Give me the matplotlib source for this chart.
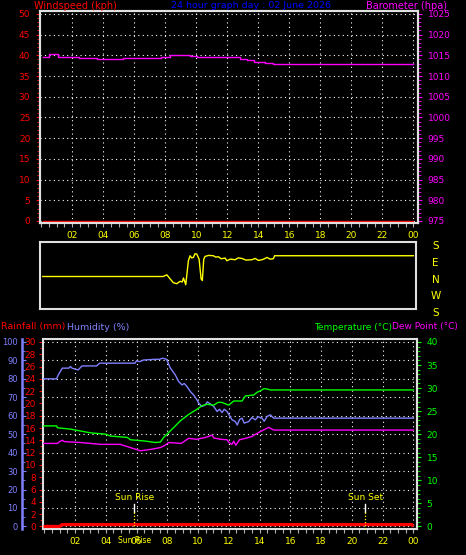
import numpy as np
import matplotlib; matplotlib.use("Agg")
import matplotlib.pyplot as plt
from matplotlib.ticker import MultipleLocator

# --- data ---
hour_ticks = list(range(2, 25, 2))
hour_labels = [f"{h % 24:02d}" for h in hour_ticks]

wind_hours = [0.1, 24.0]
wind_vals = [0.0, 0.0]

baro_hours = [0.1, 0.5, 1.05, 1.2, 2.45, 3.6, 3.9, 5.3, 7.7, 8.3, 9.6, 10.05,
              12.4, 12.8, 13.3, 13.7, 14.1, 14.4, 14.95, 24.0]
baro_vals = [1014.6, 1015.3, 1014.5, 1014.7, 1014.4, 1014.2, 1014.1, 1014.4, 1014.7, 1015.1,
             1014.8, 1014.6, 1014.5, 1014.1, 1013.9, 1013.5, 1013.3, 1013.2, 1012.9, 1012.9]

# wind direction, 0..4 = S W N E S (bottom to top)
wdir_hours = [0.1, 7.86, 8.1, 8.31, 8.52, 8.74, 8.95, 9.1, 9.17, 9.25, 9.32, 9.49, 9.6, 9.7,
              9.81, 9.92, 10.03, 10.18, 10.31, 10.39, 10.48, 10.57, 10.8, 11.1, 11.25, 11.43,
              11.6, 11.86, 11.97, 12.2, 12.5, 12.7, 12.94, 13.2, 13.58, 13.8, 14.0, 14.23,
              14.4, 14.55, 14.76, 14.97, 15.05, 24.0]
wdir_vals = [1.94, 1.94, 2.04, 1.8, 1.57, 1.51, 1.65, 1.62, 1.85, 1.65, 1.45, 2.88, 3.18, 3.05,
             3.08, 3.3, 3.28, 2.98, 1.8, 1.7, 2.98, 3.14, 3.2, 3.18, 3.1, 3.12,
             3.0, 3.04, 2.88, 2.98, 2.94, 3.05, 3.02, 2.92, 2.94, 3.02, 2.9, 2.94,
             3.0, 3.08, 2.98, 3.0, 3.18, 3.18]
wdir_labels = ["S", "W", "N", "E", "S"]

rain_hours = [-0.05, 1.0, 1.15, 23.9, 24.0]
rain_vals = [0.0, 0.0, 0.3, 0.3, 0.0]

hum_hours = [-0.05, 0.8, 0.9, 1.17, 1.6, 1.7, 1.8, 2.2, 2.45, 3.4, 3.6, 5.9, 6.0, 6.2, 6.45,
             7.2, 7.5, 7.7, 7.95, 8.2, 8.52, 8.74, 8.96, 9.1, 9.28, 9.5, 9.71, 9.93, 10.04,
             10.26, 10.47, 10.6, 10.8, 11.02, 11.24, 11.4, 11.56, 11.7, 11.89, 12.05, 12.21,
             12.43, 12.55, 12.7, 12.86, 13.0, 13.29, 13.5, 13.73, 13.9, 14.16, 14.3, 14.49,
             14.7, 14.92, 24.0]
hum_vals = [80, 80, 82, 85.8, 85.8, 86.7, 85.8, 84.8, 87, 87, 88.5, 88.5, 89.8, 89.3, 90.2,
            90.6, 90.6, 91.2, 90.6, 85.8, 82.1, 78.5, 76.7, 77.5, 75.8, 73.1, 71.3, 68.6, 66.8,
            65, 65.9, 67.5, 66.4, 65, 62.3, 63.5, 61.7, 63.5, 62.3, 60, 57.8,
            56.8, 55, 58, 58.7, 56, 56.8, 59, 57.8, 59.5, 58.7, 57, 59.6,
            60.5, 58.7, 58.7]

temp_hours = [-0.05, 0.8, 0.85, 1.7, 2.35, 3.0, 4.0, 4.3, 5.4, 5.6, 6.6, 7.2, 7.55, 7.76,
              8.31, 8.85, 9.39, 9.93, 10.26, 10.59, 11.02, 11.3, 11.56, 11.99, 12.32, 12.86,
              13.08, 13.62, 13.84, 14.05, 14.3, 14.49, 14.7, 24.0]
temp_vals = [21.8, 21.8, 21.4, 21.1, 20.7, 20.3, 20.0, 19.6, 19.3, 18.8, 18.5, 18.2, 18.3, 19.3,
             21.1, 22.9, 24.3, 25.4, 26.2, 26.5, 26.3, 26.9, 26.9, 26.3, 27.2, 27.2,
             28.3, 28.5, 29.1, 29.4, 29.9, 29.8, 29.6, 29.6]

dew_hours = [-0.05, 0.85, 1.0, 1.17, 1.3, 2.34, 3.64, 4.94, 5.6, 6.25, 6.9, 7.55, 7.8, 8.1,
             8.9, 9.39, 9.9, 10.5, 10.9, 11.02, 11.45, 11.89, 12.0, 12.2, 12.32, 12.45, 12.7,
             13.08, 13.5, 13.95, 14.37, 14.59, 14.92, 24.0]
dew_vals = [18.0, 18.0, 18.4, 18.7, 18.4, 18.2, 17.8, 17.8, 17.1, 16.4, 16.7, 17.1, 17.5, 18.2,
            18.0, 19.1, 18.9, 19.3, 19.8, 19.2, 18.9, 18.8, 18.2, 17.8, 18.5, 17.6, 18.8,
            19.1, 19.5, 20.4, 21.1, 21.5, 20.9, 20.9]

sunrise_h = 5.86
sunset_h = 20.87

# --- style ---
BG = "black"
SPINE = "#e0e0e0"
RED, MAG, BLUE, YEL = "#ff0000", "#ff00ff", "#0000ff", "#ffff00"
GREEN, HUM = "#00ff00", "#8080ff"
GRID = dict(color="white", lw=0.8, ls=(0, (1, 3)))
FS = 6.5

W, H = 466, 555
fig = plt.figure(figsize=(W / 100, H / 100), dpi=100, facecolor=BG)


def box(l, t, r, b):
    return [l / W, 1 - b / H, (r - l) / W, (b - t) / H]


def style_frame(ax):
    ax.set_facecolor(BG)
    for s in ax.spines.values():
        s.set_color(SPINE)
        s.set_linewidth(1.5)


def hour_axis(ax):
    ax.set_xticks(hour_ticks)
    ax.set_xticklabels(hour_labels)
    ax.xaxis.set_minor_locator(MultipleLocator(0.5))
    ax.tick_params(axis="x", which="both", colors="#b0b0b0", labelcolor=YEL,
                   labelsize=FS, length=3, width=0.8, pad=3)


# ---------------- top: windspeed / barometer ----------------
ax1 = fig.add_axes(box(40, 11, 418, 223))
style_frame(ax1)
ax1.set_xlim(-0.08, 24.3)
ax1.set_ylim(-0.5, 50.7)
ax1.plot(wind_hours, wind_vals, color=RED, lw=1)
ax1.yaxis.set_major_locator(MultipleLocator(5))
ax1.yaxis.set_minor_locator(MultipleLocator(1))
ax1.tick_params(axis="y", which="major", colors=RED, labelsize=FS, length=3, pad=4)
ax1.tick_params(axis="y", which="minor", colors=RED, length=2)
hour_axis(ax1)
ax1.grid(True, which="major", **GRID)

ax1b = ax1.twinx()
ax1b.set_ylim(974.5, 1025.7)
ax1b.plot(baro_hours, baro_vals, color=MAG, lw=1, drawstyle="steps-post")
ax1b.yaxis.set_major_locator(MultipleLocator(5))
ax1b.yaxis.set_minor_locator(MultipleLocator(1))
ax1b.tick_params(axis="y", which="major", colors=MAG, labelsize=FS, length=3, pad=4)
ax1b.tick_params(axis="y", which="minor", colors=MAG, length=2)
for s in ax1b.spines.values():
    s.set_color(SPINE)
    s.set_linewidth(1.5)

fig.text(34 / W, 1 - 6 / H, "Windspeed (kph)", color=RED, fontsize=7, va="center")
fig.text(251 / W, 1 - 6 / H, "24 hour graph day : 02 June 2026", color=BLUE,
         fontsize=6.8, va="center", ha="center")
fig.text(447 / W, 1 - 6 / H, "Barometer (hpa)", color=MAG, fontsize=7, va="center", ha="right")

# ---------------- middle: wind direction ----------------
ax2 = fig.add_axes(box(40, 242, 416, 309))
style_frame(ax2)
ax2.set_xlim(-0.08, 24.17)
ax2.set_ylim(0, 4)
ax2.plot(wdir_hours, wdir_vals, color=YEL, lw=1)
ax2.set_xticks([])
ax2.set_yticks([])
for i, lab in enumerate(wdir_labels):
    ax2.annotate(lab, xy=(1, i / 4), xycoords="axes fraction", xytext=(14, -3),
                 textcoords="offset points", color=YEL, fontsize=7.5, ha="center", va="center")

fig.text(1 / W, 1 - 327 / H, "Rainfall (mm)", color=RED, fontsize=6.8, va="center")
fig.text(67 / W, 1 - 327 / H, "Humidity (%)", color=HUM, fontsize=6.8, va="center")
fig.text(392 / W, 1 - 327 / H, "Temperature (°C)", color=GREEN, fontsize=6.5, va="center", ha="right")
fig.text(392 / W, 1 - 327 / H, "Dew Point (°C)", color=MAG, fontsize=6.5, va="center")

# ---------------- bottom: rain / humidity / temperature ----------------
ax3 = fig.add_axes(box(43, 339, 417, 529))
style_frame(ax3)
ax3.set_xlim(-0.085, 24.24)
ax3.set_ylim(-0.42, 30.48)
ax3.yaxis.set_major_locator(MultipleLocator(2))
ax3.yaxis.set_minor_locator(MultipleLocator(1))
ax3.tick_params(axis="y", which="major", colors=RED, labelsize=FS, length=3, pad=2)
ax3.tick_params(axis="y", which="minor", colors=RED, length=2)
hour_axis(ax3)
ax3.grid(True, axis="x", which="major", **GRID)

ax_h = ax3.twinx()
ax_h.set_ylim(-1.4, 101.6)
ax_h.yaxis.set_label_position("left")
ax_h.yaxis.tick_left()
ax_h.spines["left"].set_position(("outward", 15))
ax_h.spines["left"].set_color(HUM)
ax_h.spines["left"].set_linewidth(1.8)
for k in ("right", "top", "bottom"):
    ax_h.spines[k].set_visible(False)
ax_h.yaxis.set_major_locator(MultipleLocator(10))
ax_h.yaxis.set_minor_locator(MultipleLocator(5))
ax_h.tick_params(axis="y", which="major", direction="in", colors=HUM, labelsize=6, length=3, pad=3)
ax_h.tick_params(axis="y", which="minor", direction="in", colors=HUM, length=2)
ax_h.grid(True, axis="y", which="major", **GRID)

ax_t = ax3.twinx()
ax_t.set_ylim(-0.56, 40.65)
ax_t.spines["right"].set_color(SPINE)
ax_t.spines["right"].set_linewidth(1.5)
for k in ("left", "top", "bottom"):
    ax_t.spines[k].set_visible(False)
ax_t.yaxis.set_major_locator(MultipleLocator(5))
ax_t.yaxis.set_minor_locator(MultipleLocator(1))
ax_t.tick_params(axis="y", which="major", colors=GREEN, labelsize=FS, length=3, pad=4)
ax_t.tick_params(axis="y", which="minor", colors=GREEN, length=2)

ax_h.plot(hum_hours, hum_vals, color=HUM, lw=1)
ax_t.plot(temp_hours, temp_vals, color=GREEN, lw=1)
ax_t.plot(dew_hours, dew_vals, color=MAG, lw=1)
ax_t.plot(rain_hours, np.array(rain_vals) * 40 / 30, color=RED, lw=2.3, solid_capstyle="butt")

# sun rise / sun set markers
for hx, lab in [(sunrise_h, "Sun Rise"), (sunset_h, "Sun Set")]:
    ax_t.plot([hx, hx], [0.09, 0.133], transform=ax_t.get_xaxis_transform(), color="white", lw=1)
    ax_t.plot([hx, hx], [0.0, 0.09], transform=ax_t.get_xaxis_transform(), color=YEL, lw=0.9,
              ls=(0, (1, 1.5)))
    ax_t.annotate(lab, xy=(hx, 0.165), xycoords=("data", "axes fraction"), color=YEL,
                  fontsize=6.5, ha="center", va="center")
ax_t.annotate("Sun Rise", xy=(sunrise_h, 0), xycoords=("data", "axes fraction"),
              xytext=(0, -8.6), textcoords="offset points", color=YEL, fontsize=5.5,
              ha="center", va="center")

fig.savefig("out.png", dpi=100, facecolor=BG)
